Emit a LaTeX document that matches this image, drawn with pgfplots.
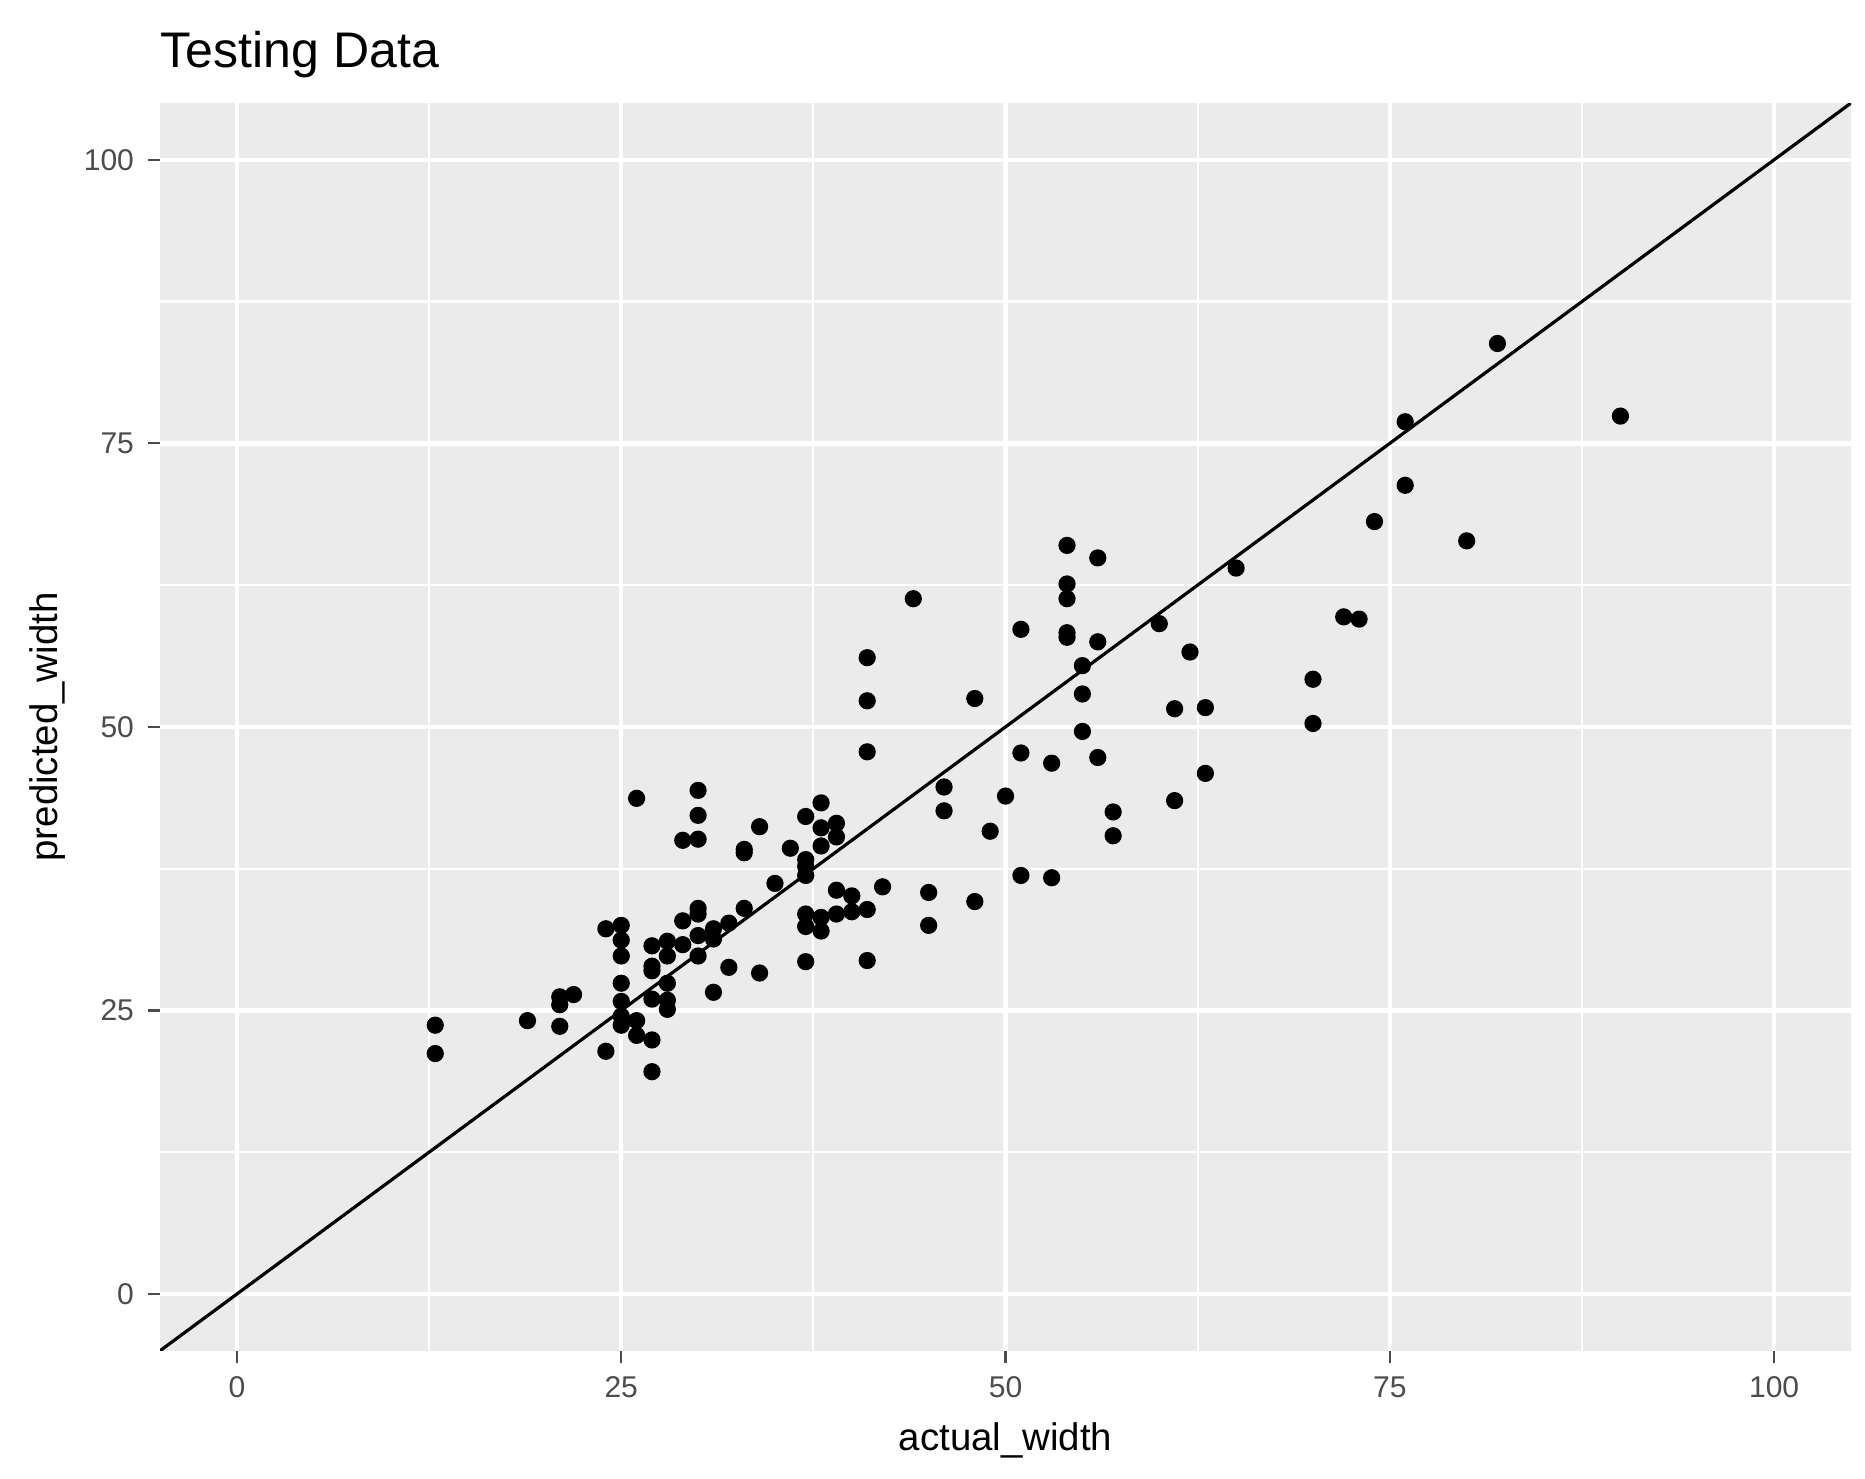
\documentclass[border=0pt]{standalone}
\usepackage{pgfplots}
\pgfplotsset{compat=1.18}
\usepackage{fontspec}
\setmainfont{Liberation Sans}
\definecolor{panel}{gray}{0.922}
\definecolor{tickc}{gray}{0.3}
\begin{document}
\begin{tikzpicture}
\begin{axis}[
  scale only axis, width=422.5pt, height=311.75pt,
  xmin=-5, xmax=105, ymin=-5, ymax=105,
  axis background/.style={fill=panel},
  axis line style={draw=none},
  xtick pos=bottom, ytick pos=left,
  xtick={0,25,50,75,100}, ytick={0,25,50,75,100},
  minor xtick={12.5,37.5,62.5,87.5}, minor ytick={12.5,37.5,62.5,87.5},
  grid=both,
  major grid style={white, line width=1.1pt},
  minor grid style={white, line width=0.55pt},
  tick align=outside, major tick length=3pt, minor tick length=0pt,
  major tick style={tickc, line width=0.55pt},
  tick label style={font=\fontsize{7.5}{9}\selectfont, text=tickc},
  /pgf/number format/assume math mode=true,
  xlabel={actual\_width}, ylabel={predicted\_width},
  label style={font=\fontsize{9.6}{12}\selectfont},
  xlabel style={at={(rel axis cs:0.5,0)}, anchor=base, yshift=-25pt},
  ylabel style={at={(rel axis cs:0,0.5)}, anchor=center, yshift=28pt},
  clip=true,
]
\addplot[only marks, mark=*, mark size=1.95pt, black] coordinates {
(12.9,23.7)(12.9,21.2)(18.9,24.1)(21,26.2)(21,25.5)(21,23.6)(21.9,26.4)
(24,32.2)(24,21.4)(25,32.5)(25,31.2)(25,29.8)(25,27.4)(25,25.8)(25,24.5)(25,23.7)
(26,43.7)(26,24.1)(26,22.8)
(27,30.7)(27,28.9)(27,28.5)(27,26)(27,22.4)(27,19.6)
(28,31.1)(28,29.8)(28,27.4)(28,25.9)(28,25.1)
(29,40)(29,32.9)(29,30.8)
(30,44.4)(30,42.2)(30,40.1)(30,34)(30,33.5)(30,31.6)(30,29.8)
(31,32.2)(31,31.3)(31,26.6)(32,32.7)(32,28.8)
(33,39.2)(33,38.9)(33,34)(34,41.2)(34,28.3)(35,36.2)(36,39.3)
(37,42.1)(37,38.3)(37,37.7)(37,36.9)(37,33.5)(37,32.4)(37,29.3)
(38,43.3)(38,41.1)(38,39.5)(38,33.2)(38,32)
(39,41.5)(39,40.3)(39,35.6)(39,33.5)(40,35.1)(40,33.7)
(41,56.1)(41,52.3)(41,47.8)(41,33.9)(41,29.4)(42,35.9)(44,61.3)
(45,35.4)(45,32.5)(46,44.7)(46,42.6)(48,52.5)(48,34.6)(49,40.8)(50,43.9)
(51,58.6)(51,47.7)(51,36.9)(53,46.8)(53,36.7)
(54,66)(54,62.6)(54,61.3)(54,58.3)(54,57.9)
(55,55.4)(55,52.9)(55,49.6)(56,64.9)(56,57.5)(56,47.3)(57,42.5)(57,40.4)
(60,59.1)(61,51.6)(61,43.5)(62,56.6)(63,51.7)(63,45.9)(65,64)
(70,54.2)(70,50.3)(72,59.7)(73,59.5)(74,68.1)(76,76.9)(76,71.3)
(80,66.4)(82,83.8)(90,77.4)
};
\addplot[black, line width=0.8pt] coordinates {(-5,-5)(105,105)};
\end{axis}
\node[anchor=base west, font=\fontsize{12.5}{15}\selectfont, inner sep=0pt] at (0,320.75pt) {Testing Data};
\path (-40pt,-32pt) rectangle (426pt,337.5pt);
\end{tikzpicture}
\end{document}
